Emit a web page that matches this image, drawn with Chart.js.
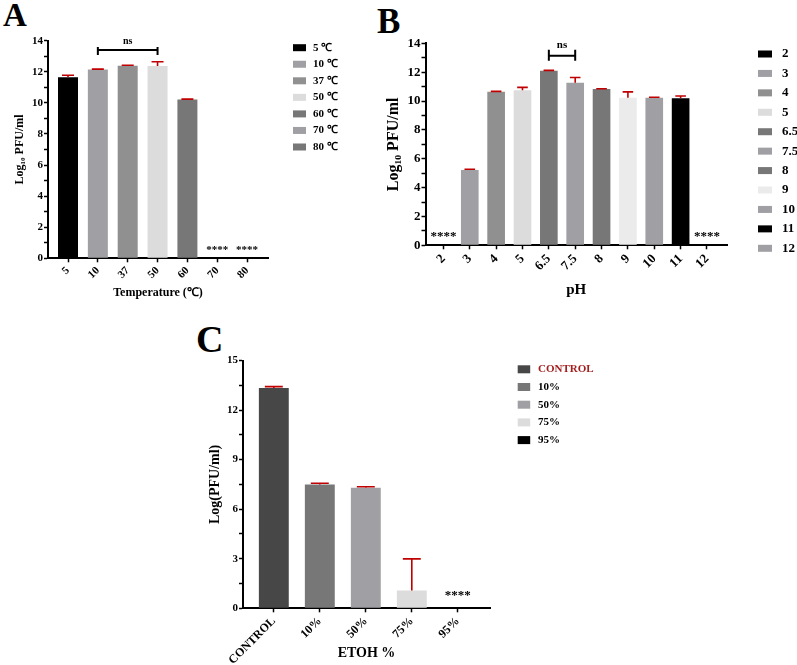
<!DOCTYPE html>
<html><head><meta charset="utf-8">
<script src="https://cdn.jsdelivr.net/npm/chart.js@4.4.1/dist/chart.umd.min.js"></script>
<style>
html,body{margin:0;padding:0;background:#fff;}
body{width:797px;height:665px;position:relative;overflow:hidden;}
canvas{position:absolute;}
.letter{position:absolute;font-family:'Liberation Serif','Times New Roman',serif;font-weight:bold;line-height:1;color:#000;}
</style></head><body>
<div class="letter" style="left:3px;top:-1px;font-size:33px">A</div>
<div class="letter" style="left:377px;top:4px;font-size:35px">B</div>
<div class="letter" style="left:196px;top:320px;font-size:38px">C</div>
<canvas id="cA" width="395" height="315" style="left:0;top:0"></canvas>
<canvas id="cB" width="417" height="315" style="left:380px;top:0"></canvas>
<canvas id="cC" width="420" height="365" style="left:190px;top:300px"></canvas>
<script>
// ---------- DATA ----------
const tempCategories = ['5','10','37','50','60','70','80'];
const tempLegendLabels = ['5 \u2103','10 \u2103','37 \u2103','50 \u2103','60 \u2103','70 \u2103','80 \u2103'];
const tempValues = [11.65, 12.14, 12.39, 12.37, 10.21, 0, 0];
const tempErrors = [0.13, 0.03, 0.03, 0.28, 0.03, 0, 0];
const tempSignif = ['', '', '', '', '', '****', '****'];
const tempBracket = [1, 3, 13.4];   // from category, to category, height
const tempBracketLabel = 'ns';

const phCategories = ['2','3','4','5','6.5','7.5','8','9','10','11','12'];
const phValues = [0, 5.22, 10.64, 10.76, 12.10, 11.27, 10.83, 10.23, 10.23, 10.19, 0];
const phErrors = [0, 0.05, 0.03, 0.19, 0.03, 0.37, 0.03, 0.41, 0.04, 0.16, 0];
const phSignif = ['****', '', '', '', '', '', '', '', '', '', '****'];
const phBracket = [4, 5, 13.15];
const phBracketLabel = 'ns';

const etohCategories = ['CONTROL','10%','50%','75%','95%'];
const etohValues = [13.33, 7.49, 7.30, 1.07, 0];
const etohErrors = [0.09, 0.08, 0.06, 1.92, 0];
const etohSignif = ['', '', '', '', '****'];

// ---------- STYLES ----------
const tempColors = ['#000000','#a0a0a4','#909090','#dcdcdc','#777777','#a0a0a4','#777777'];
const phColors = ['#000000','#a0a0a4','#909090','#dcdcdc','#777777','#a0a0a4','#777777','#ebebeb','#a0a0a4','#000000','#a0a0a4'];
const etohColors = ['#474747','#777777','#a0a0a4','#dcdcdc','#000000'];
const etohLegendTextColors = ['#a31f1f','#000','#000','#000','#000'];

const FONT = "'Liberation Serif','Times New Roman',serif";
Chart.defaults.font.family = FONT;
Chart.defaults.font.weight = 'bold';
Chart.defaults.color = '#000';

function makeDecor(cfg) {
  return {
    id: 'decor',
    afterDatasetsDraw(chart) {
      const ctx = chart.ctx, xs = chart.scales.x, ys = chart.scales.y;
      const meta = chart.getDatasetMeta(0);
      ctx.save();
      // error bars (upper only)
      ctx.strokeStyle = '#c00000';
      ctx.lineWidth = 1.6;
      cfg.errors.forEach((e, i) => {
        if (!e) return;
        const bar = meta.data[i];
        const yTop = ys.getPixelForValue(cfg.values[i] + e);
        const half = bar.width * 0.3;
        ctx.beginPath();
        ctx.moveTo(bar.x, bar.y); ctx.lineTo(bar.x, yTop);
        ctx.moveTo(bar.x - half, yTop); ctx.lineTo(bar.x + half, yTop);
        ctx.stroke();
      });
      // significance stars
      ctx.fillStyle = '#000';
      ctx.font = 'bold ' + cfg.starSize + 'px ' + FONT;
      ctx.textAlign = 'center';
      ctx.textBaseline = 'alphabetic';
      const y0 = ys.getPixelForValue(0);
      cfg.signif.forEach((s, i) => {
        if (!s) return;
        ctx.fillText(s, xs.getPixelForValue(i), y0 - cfg.starCenter + 0.45 * cfg.starSize);
      });
      // bracket
      if (cfg.bracket) {
        const [a, b, h] = cfg.bracket;
        const xa = xs.getPixelForValue(a), xb = xs.getPixelForValue(b), yb = ys.getPixelForValue(h);
        ctx.strokeStyle = '#000'; ctx.lineWidth = 2;
        ctx.beginPath();
        ctx.moveTo(xa, yb); ctx.lineTo(xb, yb);
        ctx.moveTo(xa, yb - cfg.bracketUp); ctx.lineTo(xa, yb + cfg.bracketDown);
        ctx.moveTo(xb, yb - cfg.bracketUp); ctx.lineTo(xb, yb + cfg.bracketDown);
        ctx.stroke();
        ctx.font = 'bold ' + cfg.nsSize + 'px ' + FONT;
        ctx.textBaseline = 'middle';
        ctx.fillText(cfg.bracketLabel, (xa + xb) / 2, yb - cfg.nsGap);
      }
      ctx.restore();
    },
    afterDraw(chart) {
      const ctx = chart.ctx, L = cfg.legend;
      const left = chart.chartArea.right + L.dx;
      ctx.save();
      ctx.font = 'bold ' + L.size + 'px ' + FONT;
      ctx.textBaseline = 'middle';
      ctx.textAlign = 'left';
      L.labels.forEach((lab, i) => {
        const y = L.y0 + i * L.dy;
        ctx.fillStyle = cfg.colors[i];
        ctx.fillRect(left, y - L.sh / 2, L.sw, L.sh);
        ctx.fillStyle = L.textColors ? L.textColors[i] : '#000';
        ctx.fillText(lab, left + L.textDx, y);
      });
      ctx.restore();
    }
  };
}

function buildChart(id, cfg) {
  const n = cfg.categories.length;
  return new Chart(document.getElementById(id), {
    type: 'bar',
    data: {
      datasets: [{
        data: cfg.values.map((v, i) => ({x: i, y: v})),
        backgroundColor: cfg.colors,
        borderWidth: 0,
        categoryPercentage: 1,
        barPercentage: cfg.barPct
      }]
    },
    options: {
      responsive: false, animation: false, events: [], devicePixelRatio: 1,
      layout: {padding: cfg.padding},
      plugins: {legend: {display: false}, tooltip: {enabled: false}},
      scales: {
        x: {
          type: 'linear', min: cfg.xMin, max: cfg.xMax, offset: false,
          afterBuildTicks: s => { s.ticks = cfg.categories.map((c, i) => ({value: i})); },
          afterFit: s => { s.height = cfg.xHeight; },
          ticks: {stepSize: 1, autoSkip: false, maxRotation: 45, minRotation: 45, padding: 2,
                  color: '#000', font: {size: cfg.xTickSize, weight: 'bold'},
                  callback: v => cfg.categories[v]},
          grid: {display: true, offset: false, drawOnChartArea: false, drawTicks: true, tickLength: 4, color: '#000', tickWidth: 1.5},
          border: {display: true, color: '#000', width: 2},
          title: {display: true, text: cfg.xTitle, color: '#000', font: {size: cfg.xTitleSize, weight: 'bold'},
                  padding: {top: 0, bottom: cfg.xTitlePad}}
        },
        y: {
          min: 0, max: cfg.yMax,
          afterFit: s => { s.width = cfg.yWidth; },
          ticks: {stepSize: cfg.yStep, autoSkip: false, padding: 1, color: '#000',
                  font: {size: cfg.yTickSize, weight: 'bold'},
                  callback: v => (Math.abs(v / cfg.yLabelStep - Math.round(v / cfg.yLabelStep)) < 1e-6 ? String(Math.round(v)) : '')},
          grid: {display: true, drawOnChartArea: false, drawTicks: true, tickLength: 4, color: '#000', tickWidth: 1.5},
          border: {display: true, color: '#000', width: 2},
          title: {display: true, text: cfg.yTitle, color: '#000', font: {size: cfg.yTitleSize, weight: 'bold'},
                  padding: {top: cfg.yTitlePad, bottom: 0}}
        }
      }
    },
    plugins: [makeDecor(cfg)]
  });
}

buildChart('cA', {
  categories: tempCategories, values: tempValues, errors: tempErrors, signif: tempSignif,
  colors: tempColors, bracket: tempBracket, bracketLabel: tempBracketLabel,
  barPct: 0.67, xMin: -0.67, xMax: 6.7,
  padding: {left: 0, right: 127, top: 40.7, bottom: 0},
  xHeight: 56.7, yWidth: 48, yMax: 14, yStep: 1, yLabelStep: 2,
  xTickSize: 11, yTickSize: 11, xTitle: 'Temperature (\u2103)', xTitleSize: 12, xTitlePad: 15,
  yTitle: 'Log\u2081\u2080 PFU/ml', yTitleSize: 12, yTitlePad: 12.8,
  starSize: 11, starCenter: 10.3, bracketUp: 3, bracketDown: 5, nsSize: 10, nsGap: 8.3,
  legend: {labels: tempLegendLabels, dx: 25, y0: 47.7, dy: 16.55, sw: 13, sh: 7, textDx: 20, size: 11}
});

buildChart('cB', {
  categories: phCategories, values: phValues, errors: phErrors, signif: phSignif,
  colors: phColors, bracket: phBracket, bracketLabel: phBracketLabel,
  barPct: 0.67, xMin: -0.68, xMax: 10.76,
  padding: {left: 0, right: 70, top: 43.4, bottom: 0},
  xHeight: 69.7, yWidth: 45.5, yMax: 14, yStep: 1, yLabelStep: 2,
  xTickSize: 13, yTickSize: 13, xTitle: 'pH', xTitleSize: 15, xTitlePad: 16,
  yTitle: 'Log\u2081\u2080 PFU/ml', yTitleSize: 16, yTitlePad: 4,
  starSize: 13, starCenter: 11.5, bracketUp: 6, bracketDown: 5, nsSize: 11, nsGap: 10.7,
  legend: {labels: phCategories, dx: 31, y0: 54, dy: 19.43, sw: 14, sh: 7, textDx: 24, size: 13}
});

buildChart('cC', {
  categories: etohCategories, values: etohValues, errors: etohErrors, signif: etohSignif,
  colors: etohColors, bracket: null,
  barPct: 0.65, xMin: -0.67, xMax: 4.7,
  padding: {left: 0, right: 120, top: 60.5, bottom: 0},
  xHeight: 56.7, yWidth: 53, yMax: 15, yStep: 1.5, yLabelStep: 3,
  xTickSize: 12, yTickSize: 11, xTitle: 'ETOH %', xTitleSize: 14, xTitlePad: 3.3,
  yTitle: 'Log(PFU/ml)', yTitleSize: 14, yTitlePad: 16.6,
  starSize: 13, starCenter: 15.3,
  legend: {labels: etohCategories, textColors: etohLegendTextColors, dx: 27.7, y0: 69.3, dy: 17.7, sw: 12.5, sh: 8, textDx: 20.3, size: 11}
});
</script>
</body></html>
